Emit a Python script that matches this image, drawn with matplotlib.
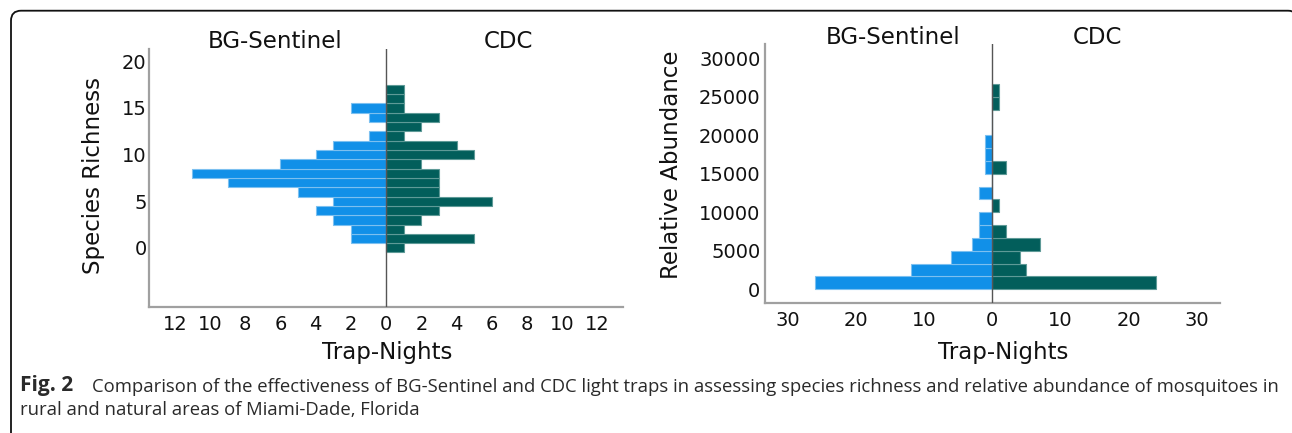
import matplotlib
matplotlib.use("Agg")
import matplotlib.pyplot as plt
from matplotlib.patches import FancyBboxPatch

# ---------------- data ----------------
richness = [0, 1, 2, 3, 4, 5, 6, 7, 8, 9, 10, 11, 12, 13, 14, 15, 16, 17]
rich_bg  = [0, 2, 2, 3, 4, 3, 5, 9, 11, 6, 4, 3, 1, 0, 1, 2, 0, 0]
rich_cdc = [1, 5, 1, 2, 3, 6, 3, 3, 3, 2, 5, 4, 1, 2, 3, 1, 1, 1]

abund_bin_centers = [833, 2500, 4167, 5833, 7500, 9167, 10833, 12500,
                     14167, 15833, 17500, 19167, 20833, 22500, 24167, 25833]
abund_bin_width = 1667
abund_bg  = [26, 12, 6, 3, 2, 2, 0, 2, 0, 1, 1, 1, 0, 0, 0, 0]
abund_cdc = [24, 5, 4, 7, 2, 0, 1, 0, 0, 2, 0, 0, 0, 0, 1, 1]

left_xticks = [-12, -10, -8, -6, -4, -2, 0, 2, 4, 6, 8, 10, 12]
left_yticks = [0, 5, 10, 15, 20]
right_xticks = [-30, -20, -10, 0, 10, 20, 30]
right_yticks = [0, 5000, 10000, 15000, 20000, 25000, 30000]

caption_bold = "Fig. 2"
caption_line1 = ("Comparison of the effectiveness of BG-Sentinel and CDC light traps in "
                 "assessing species richness and relative abundance of mosquitoes in")
caption_line2 = "rural and natural areas of Miami-Dade, Florida"

# ---------------- style ----------------
BLUE = "#1190E8"
BLUE_EDGE = "#7cc0f0"
TEAL = "#025E5B"
TEAL_EDGE = "#5e9a97"
SPINE = "#a0a0a0"
ZERO = "#555555"

W, H = 1292, 433
fig = plt.figure(figsize=(W / 100, H / 100), dpi=100)


def px_axes(x0, y0, x1, y1):
    return fig.add_axes([x0 / W, 1 - y1 / H, (x1 - x0) / W, (y1 - y0) / H])


# background frame
bg = fig.add_axes([0, 0, 1, 1], zorder=-10)
bg.set_xlim(0, W)
bg.set_ylim(H, 0)
bg.axis("off")
frame = FancyBboxPatch((11, 10.7), W - 11 + 6, H - 10.7 + 10,
                       boxstyle="round,pad=0,rounding_size=10",
                       fc="white", ec="#111111", lw=1.3)
bg.add_patch(frame)


def style_axes(ax):
    for s in ("top", "right"):
        ax.spines[s].set_visible(False)
    for s in ("left", "bottom"):
        ax.spines[s].set_color(SPINE)
        ax.spines[s].set_linewidth(1.6)
    ax.tick_params(length=0, labelsize=14, colors="#111111")
    ax.set_facecolor("none")


# ---------------- left panel ----------------
ax1 = px_axes(149.3, 49.3, 623, 306.7)
ax1.barh(richness, [-v for v in rich_bg], height=1.0, color=BLUE,
         edgecolor=BLUE_EDGE, linewidth=0.8, zorder=2)
ax1.barh(richness, rich_cdc, height=1.0, color=TEAL,
         edgecolor=TEAL_EDGE, linewidth=0.8, zorder=2)
ax1.axvline(0, color=ZERO, lw=1.0, zorder=3)
ax1.set_xlim(-13.45, 13.45)
ax1.set_ylim(-6.31, 21.28)
ax1.set_xticks(left_xticks)
ax1.set_xticklabels([str(abs(t)) for t in left_xticks])
ax1.set_yticks(left_yticks)
style_axes(ax1)
ax1.tick_params(axis="y", pad=2)
ax1.tick_params(axis="x", pad=6)

# ---------------- right panel ----------------
ax2 = px_axes(765.3, 44, 1220, 302.7)
ax2.barh(abund_bin_centers, [-v for v in abund_bg], height=abund_bin_width,
         color=BLUE, edgecolor=BLUE_EDGE, linewidth=0.8, zorder=2)
ax2.barh(abund_bin_centers, abund_cdc, height=abund_bin_width,
         color=TEAL, edgecolor=TEAL_EDGE, linewidth=0.8, zorder=2)
ax2.axvline(0, color=ZERO, lw=1.0, zorder=3)
ax2.set_xlim(-33.3, 33.4)
ax2.set_ylim(-1740, 31860)
ax2.set_xticks(right_xticks)
ax2.set_xticklabels([str(abs(t)) for t in right_xticks])
ax2.set_yticks(right_yticks)
style_axes(ax2)
ax2.tick_params(axis="y", pad=3.5)
ax2.tick_params(axis="x", pad=6)

# ---------------- texts ----------------
def ftext(x, y, s, **kw):
    fig.text(x / W, 1 - y / H, s, **kw)

LAB = dict(fontsize=16.5, color="#111111", ha="center", va="center")
ftext(275, 42, "BG-Sentinel", **LAB)
ftext(508, 42, "CDC", **LAB)
ftext(893, 37, "BG-Sentinel", **LAB)
ftext(1097, 37, "CDC", **LAB)
ftext(386.7, 353, "Trap-Nights", **LAB)
ftext(1003, 353, "Trap-Nights", **LAB)
ftext(94, 176, "Species Richness", rotation=90, **LAB)
ftext(672, 165, "Relative Abundance", rotation=90, **LAB)

CAP = dict(color="#2a2a2a", va="center", ha="left",
           family=["Open Sans", "DejaVu Sans"])
ftext(20, 386, caption_bold, fontweight="bold", fontsize=15, **CAP)
ftext(92, 387, caption_line1, fontsize=13.3, **CAP)
ftext(20, 410, caption_line2, fontsize=13.3, **CAP)

fig.savefig("out.png", dpi=100)
